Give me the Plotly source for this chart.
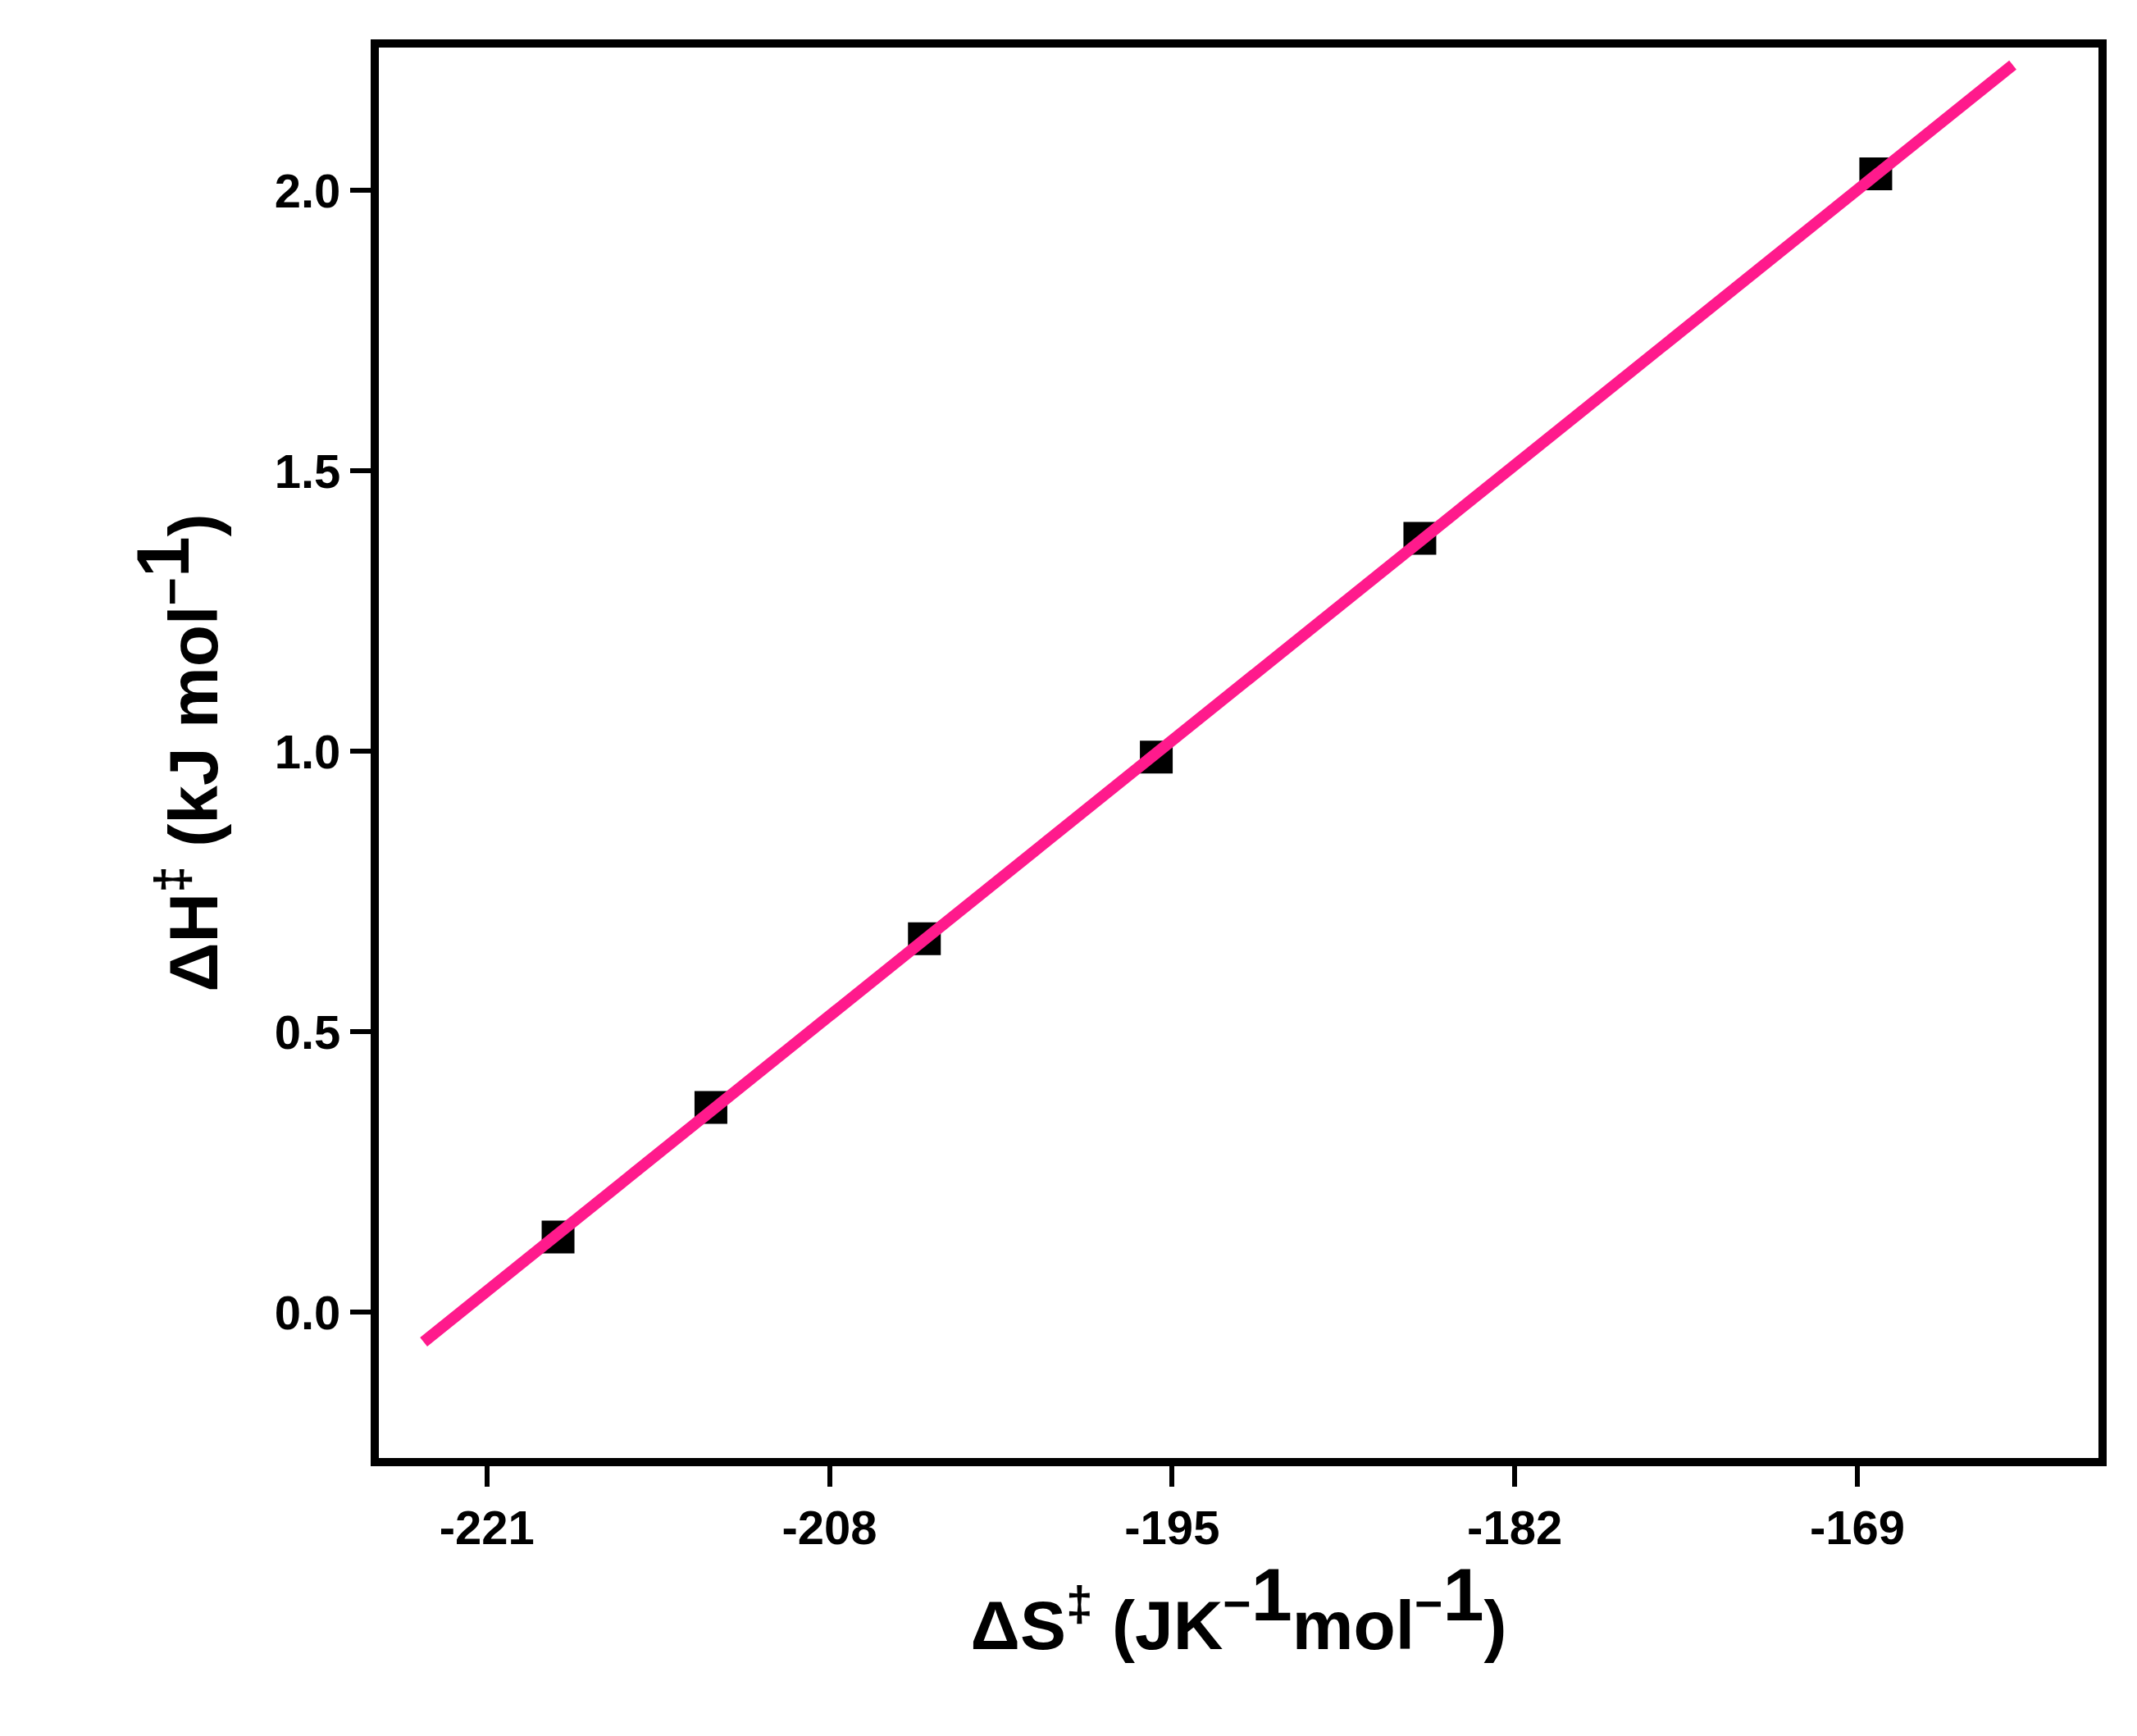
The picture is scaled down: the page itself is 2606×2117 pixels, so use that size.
import plotly.graph_objects as go

dS = [-218.3, -212.5, -204.4, -195.6, -185.6, -168.3]
dH = [0.134, 0.365, 0.666, 0.99, 1.38, 2.03]
fit_x = [-223.4, -163.1]
fit_y = [-0.053, 2.224]
xticks = [-221, -208, -195, -182, -169]
yticks = [0.0, 0.5, 1.0, 1.5, 2.0]

fig = go.Figure()
fig.add_trace(go.Scatter(x=dS, y=dH, mode="markers",
                         marker=dict(symbol="square", size=40, color="black")))
fig.add_trace(go.Scatter(x=fit_x, y=fit_y, mode="lines",
                         line=dict(color="#FF1A8C", width=14)))
ax = dict(showgrid=False, zeroline=False, showline=True, mirror=True, linecolor="black",
          linewidth=10, ticks="outside", ticklen=25, tickwidth=6, tickcolor="black",
          tickfont=dict(family="Liberation Sans", size=58, color="black", weight="bold"))
fig.update_layout(
    width=2606, height=2117, showlegend=False,
    plot_bgcolor="white", paper_bgcolor="white",
    margin=dict(l=454, r=55, t=50, b=347),
    xaxis=dict(ax, range=[-225.1, -159.85], tickvals=xticks,
               ticktext=[str(v) for v in xticks],
               title=dict(text="<b>ΔS<sup>‡</sup> (JK<sup>−<span style='font-size:90px'>1</span></sup>mol<sup>−<span style='font-size:90px'>1</span></sup>)</b>",
                          font=dict(family="Liberation Sans", size=84, color="black"),
                          standoff=55)),
    yaxis=dict(ax, range=[-0.26, 2.255], tickvals=yticks,
               ticktext=[f"{v:.1f}" for v in yticks],
               title=dict(text="<b>ΔH<sup>‡</sup> (kJ mol<sup>−<span style='font-size:90px'>1</span></sup>)</b>",
                          font=dict(family="Liberation Sans", size=84, color="black"),
                          standoff=45)),
)
fig.write_html("out.html")
